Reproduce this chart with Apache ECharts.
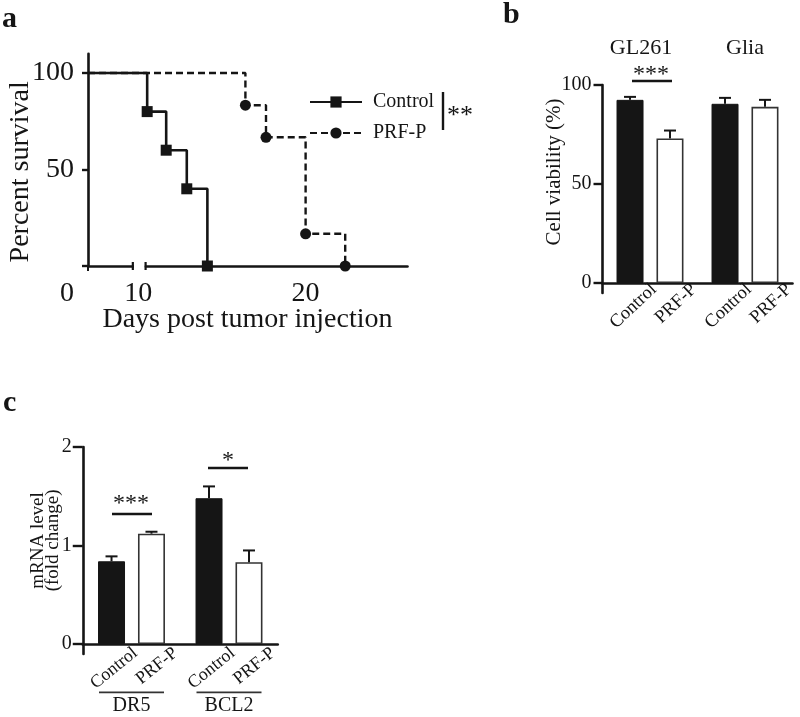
<!DOCTYPE html>
<html><head><meta charset="utf-8">
<script src="https://cdn.jsdelivr.net/npm/echarts@6/dist/echarts.min.js"></script>
<style>html,body{margin:0;padding:0;background:#fff}#c{width:800px;height:717px}</style>
</head><body><div id="c"></div>
<script>
// ---------- Panel a: Kaplan-Meier survival ----------
const controlDays = [0, 10.0, 11.2, 12.5, 13.8];
const controlSurv = [100, 80, 60, 40, 0];
const prfDays = [0, 16.2, 17.5, 20.0, 22.5];
const prfSurv = [100, 83.3, 66.7, 16.7, 0];
const survXLabels = [0, 10, 20];
const survYLabels = [50, 100];
const survBreak = [2.83, 9.9];

// ---------- Panel b: cell viability ----------
const treatments = ['Control', 'PRF-P'];
const viabGroups = ['GL261', 'Glia'];
const viabControl = [92.5, 90.5];
const viabControlErr = [1.5, 3.0];
const viabPrf = [73.0, 89.0];
const viabPrfErr = [4.0, 3.5];
const viabYTicks = [0, 50, 100];

// ---------- Panel c: mRNA level ----------
const mrnaGroups = ['DR5', 'BCL2'];
const mrnaControl = [0.84, 1.48];
const mrnaControlErr = [0.05, 0.12];
const mrnaPrf = [1.12, 0.83];
const mrnaPrfErr = [0.02, 0.12];
const mrnaYTicks = [0, 1, 2];

const SERIF = "Liberation Serif, Times New Roman, serif";
const INK = '#151515';
const BAR_W = 27, GAP_RATIO = 0.48;
const LABEL_SHIFT = 24; // px, rotated label anchor right of bar centre

const G = [
  {left: 88, top: 53.7, width: 319, height: 212.3},
  {left: 602.5, top: 85, width: 190, height: 207.9},
  {left: 82.75, top: 447, width: 195, height: 206.9}
];

function kmData(days, surv) {
  return days.map((d, i) => i === 0 ? {value: [d, surv[i]], symbol: 'none'} : {value: [d, surv[i]]});
}

function labelPositions(nGroups, gridW) {
  const catW = gridW / nGroups;
  const off = BAR_W * (1 + GAP_RATIO) / 2;
  const pos = [];
  for (let g = 0; g < nGroups; g++) {
    pos.push(g + 0.5 + (-off + LABEL_SHIFT) / catW);
    pos.push(g + 0.5 + (off + LABEL_SHIFT) / catW);
  }
  return pos;
}

function nearestLabel(pos) {
  return function (v) {
    let best = 0, bd = Infinity;
    pos.forEach((p, i) => { const d = Math.abs(p - v); if (d < bd) { bd = d; best = i; } });
    return treatments[best % 2];
  };
}

function errRender(sign) {
  return function (params, api) {
    const cat = api.value(0), v = api.value(1), e = api.value(2);
    const base = api.coord([cat, v]);
    const top = api.coord([cat, v + e]);
    const x = base[0] + sign * BAR_W * (1 + GAP_RATIO) / 2;
    const cap = 12;
    return {type: 'group', children: [
      {type: 'line', shape: {x1: x, y1: base[1], x2: x, y2: top[1]}, style: {stroke: INK, lineWidth: 2}},
      {type: 'line', shape: {x1: x - cap / 2, y1: top[1], x2: x + cap / 2, y2: top[1]}, style: {stroke: INK, lineWidth: 2}}
    ]};
  };
}

// axis break decoration for panel a: white gap in the x-axis line, with end ticks
function breakGapRender(params, api) {
  const p0 = api.coord([0, 0]), p10 = api.coord([10, 0]), p20 = api.coord([20, 0]);
  const k = (p20[0] - p10[0]) / 10;
  const x0 = p0[0] + survBreak[0] * k;
  const x1 = p10[0] - (10 - survBreak[1]) * k;
  const y = p0[1];
  return {type: 'group', children: [
    {type: 'rect', shape: {x: x0 + 1, y: y - 4, width: Math.max(0, x1 - x0 - 2), height: 8}, style: {fill: '#fff'}},
    {type: 'line', shape: {x1: x0, y1: y - 4, x2: x0, y2: y + 4}, style: {stroke: INK, lineWidth: 2.2}},
    {type: 'line', shape: {x1: x1, y1: y - 4, x2: x1, y2: y + 4}, style: {stroke: INK, lineWidth: 2.2}}
  ]};
}

function errData(vals, errs) { return vals.map((v, i) => [i, v, errs[i]]); }

const axisLineStyle = {color: INK, width: 2.6};
const bPos = labelPositions(viabGroups.length, G[1].width);
const cPos = labelPositions(mrnaGroups.length, G[2].width);

const option = {
  animation: false,
  backgroundColor: '#fff',
  textStyle: {fontFamily: SERIF, color: INK},
  grid: G.map(g => Object.assign({outerBoundsMode: 'none', containLabel: false}, g)),
  legend: {
    data: ['Control', 'PRF-P'],
    orient: 'vertical', left: 304, top: 87,
    itemWidth: 52, itemHeight: 14, itemGap: 11,
    textStyle: {fontFamily: SERIF, fontSize: 20, color: INK, padding: [0, 0, 0, 6]},
    selectedMode: false
  },
  xAxis: [
    { // 0 survival days
      gridIndex: 0, type: 'value', min: 0, max: 26.4, interval: 10,
      breaks: [{start: survBreak[0], end: survBreak[1], gap: '4%'}],
      breakArea: {show: false},
      axisLine: {lineStyle: axisLineStyle},
      axisTick: {show: true, length: 5, lineStyle: {color: INK, width: 2}, customValues: [0]},
      splitLine: {show: false},
      axisLabel: {
        customValues: survXLabels, margin: 14, fontSize: 28, fontFamily: SERIF, color: INK,
        formatter: v => v === 0 ? '{z|0}' : (v === 10 ? '{t|10}' : String(v)),
        rich: {z: {fontSize: 28, fontFamily: SERIF, padding: [0, 42, 0, 0]}, t: {fontSize: 28, fontFamily: SERIF, padding: [0, 18, 0, 0]}}
      },
      name: 'Days post tumor injection', nameLocation: 'middle', nameGap: 40, nameMoveOverlap: false,
      nameTextStyle: {fontSize: 28, fontFamily: SERIF, color: INK}
    },
    { // 1 viability category axis
      gridIndex: 1, type: 'category', data: viabGroups, position: 'bottom',
      axisLine: {onZero: true, lineStyle: axisLineStyle},
      axisTick: {show: false}, axisLabel: {show: false}
    },
    { // 2 viability treatment labels
      gridIndex: 1, type: 'value', min: 0, max: viabGroups.length, position: 'bottom',
      axisLine: {show: false, onZero: false}, axisTick: {show: false}, splitLine: {show: false},
      axisLabel: {show: true, customValues: bPos, rotate: 43, margin: -6, fontSize: 18.5, fontFamily: SERIF, color: INK,
        formatter: nearestLabel(bPos)}
    },
    { // 3 viability group titles
      gridIndex: 1, type: 'category', data: viabGroups, position: 'top',
      axisLine: {show: false, onZero: false}, axisTick: {show: false},
      axisLabel: {interval: 0, hideOverlap: false, margin: 26, fontSize: 22, fontFamily: SERIF, color: INK,
        formatter: (v, i) => i === 0 ? '{g|' + v + '}' : v,
        rich: {g: {fontSize: 22, fontFamily: SERIF, color: INK, padding: [0, 18, 0, 0]}}}
    },
    { // 4 mRNA category axis
      gridIndex: 2, type: 'category', data: mrnaGroups, position: 'bottom',
      axisLine: {onZero: true, lineStyle: axisLineStyle},
      axisTick: {show: false}, axisLabel: {show: false}
    },
    { // 5 mRNA treatment labels
      gridIndex: 2, type: 'value', min: 0, max: mrnaGroups.length, position: 'bottom',
      axisLine: {show: false, onZero: false}, axisTick: {show: false}, splitLine: {show: false},
      axisLabel: {show: true, customValues: cPos, rotate: 39, margin: -3, fontSize: 18, fontFamily: SERIF, color: INK,
        formatter: nearestLabel(cPos)}
    },
    { // 6 mRNA gene labels with underline
      gridIndex: 2, type: 'category', data: mrnaGroups, position: 'bottom',
      axisLine: {show: false, onZero: false}, axisTick: {show: false},
      axisLabel: {interval: 0, margin: 37, color: INK,
        formatter: v => '{u| }\n{t|' + v + '}',
        rich: {
          u: {width: 65, height: 1.6, lineHeight: 3, fontSize: 1, backgroundColor: '#333'},
          t: {fontSize: 20, fontFamily: SERIF, color: INK, lineHeight: 24}
        }}
    }
  ],
  yAxis: [
    { // 0 percent survival
      gridIndex: 0, type: 'value', min: 0, max: 110,
      axisLine: {show: true, lineStyle: axisLineStyle},
      axisTick: {show: true, length: 6, lineStyle: {color: INK, width: 2.4}, customValues: [0, 50, 100]},
      splitLine: {show: false},
      axisLabel: {customValues: survYLabels, margin: 14, fontSize: 28, fontFamily: SERIF, color: INK},
      name: 'Percent survival', nameLocation: 'middle', nameGap: 53, nameMoveOverlap: false,
      nameTextStyle: {fontSize: 28, fontFamily: SERIF, color: INK, padding: [0, 24, 0, 0]}
    },
    { // 1 viability
      gridIndex: 1, type: 'value', min: -5, max: 100,
      axisLine: {show: true, onZero: false, lineStyle: axisLineStyle},
      axisTick: {show: true, length: 9, lineStyle: {color: INK, width: 2.4}, customValues: viabYTicks},
      splitLine: {show: false},
      axisLabel: {customValues: viabYTicks, margin: 11, fontSize: 20, fontFamily: SERIF, color: INK},
      name: 'Cell viability (%)', nameLocation: 'middle', nameGap: 38, nameMoveOverlap: false,
      nameTextStyle: {fontSize: 21, fontFamily: SERIF, color: INK, padding: [0, 0, 0, 34]}
    },
    { // 2 mRNA
      gridIndex: 2, type: 'value', min: -0.1, max: 2,
      axisLine: {show: true, onZero: false, lineStyle: axisLineStyle},
      axisTick: {show: true, length: 10, lineStyle: {color: INK, width: 2.4}, customValues: mrnaYTicks},
      splitLine: {show: false},
      axisLabel: {customValues: mrnaYTicks, margin: 11, fontSize: 20, fontFamily: SERIF, color: INK},
      name: 'mRNA level\n(fold change)', nameLocation: 'middle', nameGap: 22, nameMoveOverlap: false,
      nameTextStyle: {fontSize: 19, lineHeight: 15, fontFamily: SERIF, color: INK, padding: [0, 0, 0, 20]}
    }
  ],
  series: [
    {
      name: 'Control', type: 'line', step: 'end', xAxisIndex: 0, yAxisIndex: 0,
      data: kmData(controlDays, controlSurv), clip: false,
      symbol: 'rect', symbolSize: 11,
      lineStyle: {color: INK, width: 2.6, type: 'solid'},
      itemStyle: {color: INK}, z: 3
    },
    {
      name: 'PRF-P', type: 'line', step: 'end', xAxisIndex: 0, yAxisIndex: 0,
      data: kmData(prfDays, prfSurv), clip: false,
      symbol: 'circle', symbolSize: 11,
      lineStyle: {color: INK, width: 2.4, type: [7, 4]},
      itemStyle: {color: INK}, z: 3
    },
    {
      name: 'axis break', type: 'custom', xAxisIndex: 0, yAxisIndex: 0,
      data: [[5, 50]], renderItem: breakGapRender, clip: false, silent: true, z: 10
    },
    {
      name: 'Viability Control', type: 'bar', xAxisIndex: 1, yAxisIndex: 1,
      data: viabControl, barWidth: BAR_W, barGap: (GAP_RATIO * 100) + '%',
      itemStyle: {color: INK, borderColor: INK, borderWidth: 1}
    },
    {
      name: 'Viability PRF-P', type: 'bar', xAxisIndex: 1, yAxisIndex: 1,
      data: viabPrf, barWidth: BAR_W, barGap: (GAP_RATIO * 100) + '%',
      itemStyle: {color: '#fff', borderColor: '#333', borderWidth: 1.6}
    },
    {
      name: 'Viability Control err', type: 'custom', xAxisIndex: 1, yAxisIndex: 1,
      data: errData(viabControl, viabControlErr), renderItem: errRender(-1), z: 5
    },
    {
      name: 'Viability PRF-P err', type: 'custom', xAxisIndex: 1, yAxisIndex: 1,
      data: errData(viabPrf, viabPrfErr), renderItem: errRender(1), z: 5
    },
    {
      name: 'mRNA Control', type: 'bar', xAxisIndex: 4, yAxisIndex: 2,
      data: mrnaControl, barWidth: BAR_W, barGap: (GAP_RATIO * 100) + '%',
      itemStyle: {color: INK, borderColor: INK, borderWidth: 1}
    },
    {
      name: 'mRNA PRF-P', type: 'bar', xAxisIndex: 4, yAxisIndex: 2,
      data: mrnaPrf, barWidth: BAR_W, barGap: (GAP_RATIO * 100) + '%',
      itemStyle: {color: '#fff', borderColor: '#333', borderWidth: 1.6}
    },
    {
      name: 'mRNA Control err', type: 'custom', xAxisIndex: 4, yAxisIndex: 2,
      data: errData(mrnaControl, mrnaControlErr), renderItem: errRender(-1), z: 5
    },
    {
      name: 'mRNA PRF-P err', type: 'custom', xAxisIndex: 4, yAxisIndex: 2,
      data: errData(mrnaPrf, mrnaPrfErr), renderItem: errRender(1), z: 5
    }
  ],
  graphic: [
    {type: 'text', left: 2, top: 4, style: {text: 'a', font: "bold 30px " + SERIF, fill: INK}},
    {type: 'text', left: 503, top: 0, style: {text: 'b', font: "bold 30px " + SERIF, fill: INK}},
    {type: 'text', left: 3, top: 388, style: {text: 'c', font: "bold 30px " + SERIF, fill: INK}},
    // log-rank bracket
    {type: 'line', shape: {x1: 443, y1: 92, x2: 443, y2: 130}, style: {stroke: INK, lineWidth: 2.4}},
    {type: 'text', x: 447, y: 116, style: {text: '**', font: "26px " + SERIF, fill: INK, verticalAlign: 'middle'}},
    // panel b significance
    {type: 'line', shape: {x1: 632, y1: 81, x2: 672, y2: 81}, style: {stroke: INK, lineWidth: 2.4}},
    {type: 'text', x: 651, y: 75, style: {text: '***', font: "24px " + SERIF, fill: INK, align: 'center', verticalAlign: 'middle'}},
    // panel c significance
    {type: 'line', shape: {x1: 112, y1: 514, x2: 152, y2: 514}, style: {stroke: INK, lineWidth: 2.4}},
    {type: 'text', x: 131, y: 504, style: {text: '***', font: "24px " + SERIF, fill: INK, align: 'center', verticalAlign: 'middle'}},
    {type: 'line', shape: {x1: 208, y1: 468, x2: 248, y2: 468}, style: {stroke: INK, lineWidth: 2.4}},
    {type: 'text', x: 228, y: 461, style: {text: '*', font: "24px " + SERIF, fill: INK, align: 'center', verticalAlign: 'middle'}}
  ]
};

const chart = echarts.init(document.getElementById('c'), null, {renderer: 'canvas'});
chart.setOption(option);
</script>
</body></html>
